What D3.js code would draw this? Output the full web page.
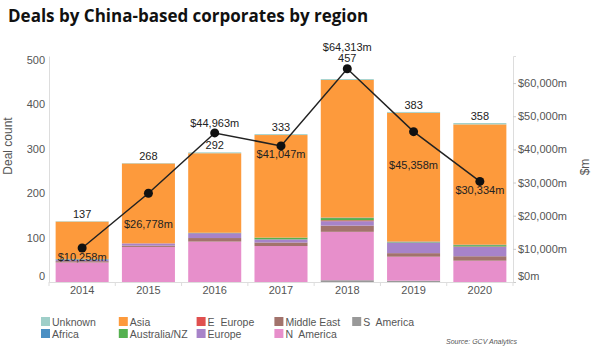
<!DOCTYPE html>
<html lang="en">
<head>
    <meta charset="UTF-8">
    <title>Deals by China-based corporates by region</title>
    <script src="https://d3js.org/d3.v7.min.js"></script>
    <style>
        body { margin: 0; background: #fff; }
        text { font-family: "Liberation Sans", Arial, sans-serif; }
        .title { font-family: "Open Sans", sans-serif; font-weight: bold; font-size: 17px; fill: #111; }
        .axis-lbl { font-size: 11px; fill: #555; }
        .bar-lbl { font-size: 11px; fill: #222; }
        .legend text { font-size: 10.5px; fill: #555; white-space: pre; }
    </style>
</head>
<body>
<script>
    const width  = 600;
    const height = 352;

    // data
    const years = ["2014", "2015", "2016", "2017", "2018", "2019", "2020"];
    const regions = ["S  America", "N  America", "Middle East", "Europe", "E  Europe",
                     "Australia/NZ", "Africa", "Asia", "Unknown"];
    const sAmerica    = [0, 0, 0, 0, 4, 3, 0];
    const nAmerica    = [44, 79, 91, 81, 109, 54, 48];
    const middleEast  = [3, 3, 8, 8, 14, 8, 10];
    const europe      = [4, 5, 11, 7, 10, 24, 21];
    const eEurope     = [0, 0, 0, 0, 2, 0, 1];
    const australiaNZ = [1, 0, 1, 4, 5, 1, 3];
    const africa      = [0, 0, 0, 0, 1, 1, 1];
    const asia        = [84, 180, 179, 231, 310, 290, 271];
    const unknown     = [1, 1, 2, 2, 2, 2, 3];
    const dealTotals  = [137, 268, 292, 333, 457, 383, 358];
    const dealValue   = [10258, 26778, 44963, 41047, 64313, 45358, 30334];
    const leftTicks   = [0, 100, 200, 300, 400, 500];
    const rightTicks  = [0, 10000, 20000, 30000, 40000, 50000, 60000];

    const seriesByRegion = [sAmerica, nAmerica, middleEast, europe, eEurope,
                            australiaNZ, africa, asia, unknown];
    const colors = {
        "Unknown": "#9fcfc9", "Africa": "#4a8fc3", "Asia": "#fd9a3c",
        "Australia/NZ": "#55b14f", "E  Europe": "#e0504f", "Europe": "#a783c9",
        "Middle East": "#a2736c", "N  America": "#e78fcb", "S  America": "#999999"
    };
    const legendOrder = ["Unknown", "Africa", "Asia", "Australia/NZ", "E  Europe",
                         "Europe", "Middle East", "N  America", "S  America"];

    // label nudges (pixels)
    const countDy = [-3, -3, -3, -3, -17, -3, -3];
    const valueDy = [13, 35, -6, 12, -18, 37, 13];

    const rows = years.map((y, i) => {
        const r = {year: y};
        regions.forEach((g, j) => r[g] = seriesByRegion[j][i]);
        return r;
    });
    const stacked = d3.stack().keys(regions)(rows);

    const x = d3.scaleBand().domain(years).range([49, 513])
                .paddingInner(0.2).paddingOuter(0.1);
    const yL = d3.scaleLinear().domain([0, 509]).range([282, 56]);
    const yR = d3.scaleLinear().domain([0, 68170]).range([282, 56]);

    const svg = d3.select("body").append("svg")
                  .attr("width", width).attr("height", height);

    svg.append("text").attr("class", "title")
       .attr("x", 8).attr("y", 22)
       .text("Deals by China-based corporates by region");

    // bars
    svg.append("g").selectAll("g")
       .data(stacked)
       .join("g")
       .attr("fill", d => colors[d.key])
       .selectAll("rect")
       .data(d => d)
       .join("rect")
       .attr("x", d => x(d.data.year))
       .attr("width", x.bandwidth())
       .attr("y", d => yL(d[1]))
       .attr("height", d => yL(d[0]) - yL(d[1]));

    // axes
    const fmtM = d => "$" + d3.format(",")(d) + "m";

    const gl = svg.append("g").attr("transform", "translate(49,0)")
                  .call(d3.axisLeft(yL).tickValues(leftTicks).tickSize(0).tickPadding(4));
    const gr = svg.append("g").attr("transform", "translate(513,0)")
                  .call(d3.axisRight(yR).tickValues(rightTicks).tickFormat(fmtM)
                          .tickSize(3).tickPadding(2));
    [gl, gr].forEach(g => {
        g.select(".domain").attr("stroke", "#ddd");
        g.selectAll(".tick line").attr("stroke", "#ccc");
        g.selectAll("text").attr("class", "axis-lbl").attr("font-family", null)
         .attr("font-size", null).attr("fill", null);
        g.selectAll(".tick").filter(d => d === 0).select("text").attr("dy", "-0.25em");
    });

    svg.append("line").attr("x1", 49).attr("x2", 513).attr("y1", 282.5).attr("y2", 282.5)
       .attr("stroke", "#ddd");
    svg.append("g").selectAll("line")
       .data(years.concat(["end"]))
       .join("line")
       .attr("x1", (d, i) => 49 + i * x.step())
       .attr("x2", (d, i) => 49 + i * x.step())
       .attr("y1", 282).attr("y2", 286)
       .attr("stroke", "#ddd");
    svg.append("g").selectAll("text")
       .data(years)
       .join("text").attr("class", "axis-lbl")
       .attr("x", d => x(d) + x.bandwidth() / 2)
       .attr("y", 294)
       .attr("text-anchor", "middle")
       .text(d => d);

    svg.append("text").attr("class", "axis-lbl")
       .attr("transform", "translate(12,146) rotate(-90)")
       .attr("text-anchor", "middle").style("font-size", "12px")
       .text("Deal count");
    svg.append("text").attr("class", "axis-lbl")
       .attr("transform", "translate(589,167) rotate(-90)")
       .attr("text-anchor", "middle").style("font-size", "12px")
       .text("$m");

    // totals above bars
    svg.append("g").selectAll("text")
       .data(dealTotals)
       .join("text").attr("class", "bar-lbl")
       .attr("x", (d, i) => x(years[i]) + x.bandwidth() / 2)
       .attr("y", (d, i) => yL(d) + countDy[i])
       .attr("text-anchor", "middle")
       .text(d => d);

    // value line
    const line = d3.line()
                   .x((d, i) => x(years[i]) + x.bandwidth() / 2)
                   .y(d => yR(d));
    svg.append("path").datum(dealValue)
       .attr("d", line).attr("fill", "none")
       .attr("stroke", "#222").attr("stroke-width", 1.5);
    svg.append("g").selectAll("circle")
       .data(dealValue)
       .join("circle")
       .attr("cx", (d, i) => x(years[i]) + x.bandwidth() / 2)
       .attr("cy", d => yR(d))
       .attr("r", 4.5).attr("fill", "#111");
    svg.append("g").selectAll("text")
       .data(dealValue)
       .join("text").attr("class", "bar-lbl")
       .attr("x", (d, i) => x(years[i]) + x.bandwidth() / 2)
       .attr("y", (d, i) => yR(d) + valueDy[i])
       .attr("text-anchor", "middle")
       .text(fmtM);

    // legend
    const legend = svg.append("g").attr("class", "legend");
    const items = legend.selectAll("g")
       .data(legendOrder)
       .join("g")
       .attr("transform", (d, i) => `translate(${41 + Math.floor(i / 2) * 77.8},${317 + (i % 2) * 12})`);
    items.append("rect").attr("width", 9).attr("height", 9)
         .attr("fill", d => colors[d]);
    items.append("text").attr("x", 11).attr("y", 8.5).text(d => d);

    svg.append("text")
       .attr("x", 517).attr("y", 344)
       .attr("text-anchor", "end")
       .style("font-size", "7px").style("font-style", "italic").style("fill", "#555")
       .text("Source: GCV Analytics");
</script>
</body>
</html>
